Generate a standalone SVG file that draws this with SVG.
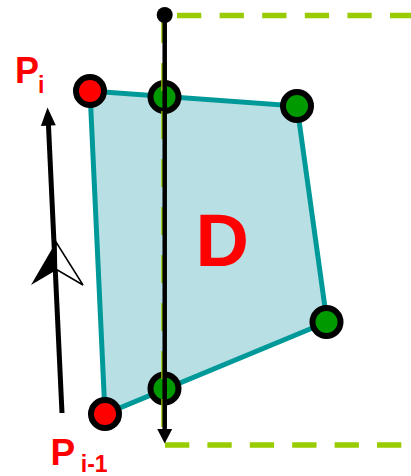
<svg xmlns="http://www.w3.org/2000/svg" width="411" height="476" viewBox="0 0 411 476">
<defs>
<style>
.lbl{font-family:"Liberation Sans",Arial,sans-serif;font-weight:bold;fill:#ff0000}
.dash{stroke:#99cc00;stroke-width:5.5;fill:none}
.pt{stroke:#000;stroke-width:6}
.red{fill:#ff0000}
.grn{fill:#009900}
</style>
</defs>
<rect width="411" height="476" fill="#fff"/>
<g id="region-D">
<polygon points="90,91 297,106 327,322 105,414" fill="#b8dfe3" stroke="#009999" stroke-width="5" stroke-linejoin="miter"/>
<text class="lbl" x="195.6" y="266" font-size="74">D</text>
</g>
<g id="vertices">
<circle id="p-top-left" class="pt red" cx="90" cy="91" r="14"/>
<circle id="p-top-mid" class="pt grn" cx="164.5" cy="97" r="14"/>
<circle id="p-top-right" class="pt grn" cx="297" cy="106" r="14"/>
<circle id="p-bottom-right" class="pt grn" cx="326.5" cy="322" r="14"/>
<circle id="p-bottom-mid" class="pt grn" cx="164.5" cy="388.5" r="14"/>
<circle id="p-bottom-left" class="pt red" cx="105" cy="414" r="14"/>
</g>
<g id="connectors">
<line class="dash" x1="177" y1="15.5" x2="411" y2="15.5" stroke-dasharray="24.3 18.3"/>
<line class="dash" x1="165" y1="445" x2="405" y2="445" stroke-dasharray="24.3 18.1"/>
<line class="dash" x1="164" y1="15" x2="164" y2="443" stroke-dasharray="28 20"/>
<line x1="164.7" y1="15" x2="164.7" y2="430" stroke="#000" stroke-width="4.5"/>
<polygon points="164.7,443.5 157.2,429 172.2,429" fill="#000"/>
<circle cx="164.7" cy="15" r="8" fill="#000"/>
<line x1="62" y1="413" x2="48.4" y2="124" stroke="#000" stroke-width="5"/>
<polygon points="47.5,107.5 55.8,125.2 40.9,125.9" fill="#000"/>
<polygon points="56,242 31,285 53,272" fill="#000"/>
<polygon points="56,242 83,285 56.5,269.5" fill="#fff" stroke="#000" stroke-width="1.5" stroke-linejoin="miter"/>
</g>
<g id="label-Pi">
<text class="lbl" x="15" y="83" font-size="36">P</text>
<text class="lbl" x="38" y="92.5" font-size="23">i</text>
</g>
<g id="label-Pi-1">
<text class="lbl" x="50.6" y="465" font-size="37">P</text>
<text class="lbl" x="80.8" y="472" font-size="23">i-1</text>
</g>
</svg>
